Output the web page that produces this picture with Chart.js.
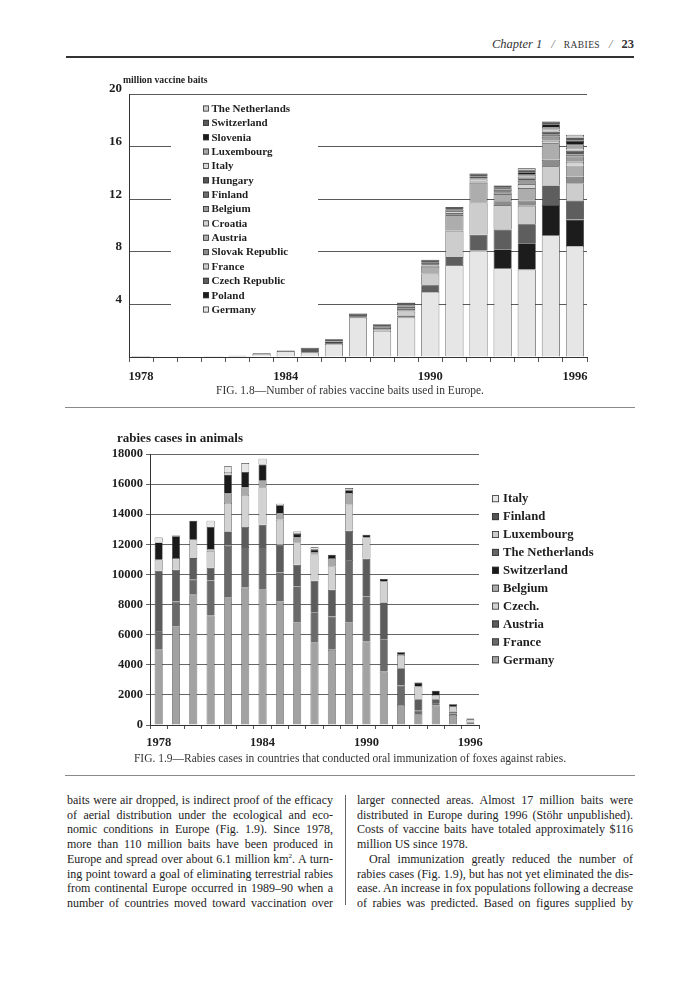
<!DOCTYPE html>
<html><head><meta charset="utf-8">
<script src="https://cdn.jsdelivr.net/npm/chart.js@4.4.0/dist/chart.umd.min.js"></script>
<style>
html,body{margin:0;padding:0;background:#fff;}
body{width:700px;height:1000px;position:relative;overflow:hidden;font-family:"Liberation Serif","Times New Roman",serif;color:#222;}
.abs{position:absolute;}
#hdr{right:66px;top:37px;font-size:12.5px;white-space:nowrap;color:#333;}
#hdr .sl{margin:0 9px;color:#777;font-style:italic;}
#hdr .sc{font-size:9.5px;letter-spacing:0.4px;}
.rule{position:absolute;left:65px;width:570px;height:1px;background:#8a8a8a;}
.cap{position:absolute;left:0;width:700px;text-align:center;font-size:11.5px;color:#333;white-space:nowrap;}
.col{position:absolute;top:793px;font-size:12px;line-height:14.7px;color:#222;}
.col div{text-align:justify;text-align-last:justify;white-space:nowrap;}
.col div.last{text-align-last:left;}
.col div.ind{padding-left:12px;}
canvas{position:absolute;left:0;}
</style>
</head><body>
<div id="hdr" class="abs"><i>Chapter 1</i><span class="sl">/</span><span class="sc">RABIES</span><span class="sl">/</span><b>23</b></div>
<div class="rule" style="top:56px;height:2px;background:#333;left:66px;width:568px;"></div>

<canvas id="c1" width="700" height="330" style="top:60px;"></canvas>
<div class="cap" style="top:384px;">FIG. 1.8—Number of rabies vaccine baits used in Europe.</div>
<div class="rule" style="top:407px;"></div>

<canvas id="c2" width="700" height="340" style="top:420px;"></canvas>
<div class="cap" style="top:752px;">FIG. 1.9—Rabies cases in countries that conducted oral immunization of foxes against rabies.</div>
<div class="rule" style="top:775px;"></div>

<div class="col" style="left:67px;width:266px;">
<div>baits were air dropped, is indirect proof of the efficacy</div>
<div>of aerial distribution under the ecological and eco-</div>
<div>nomic conditions in Europe (Fig. 1.9). Since 1978,</div>
<div>more than 110 million baits have been produced in</div>
<div>Europe and spread over about 6.1 million km<sup style="font-size:7px;line-height:0">2</sup>. A turn-</div>
<div>ing point toward a goal of eliminating terrestrial rabies</div>
<div>from continental Europe occurred in 1989–90 when a</div>
<div>number of countries moved toward vaccination over</div>
</div>
<div class="abs" style="left:345px;top:795px;width:1px;height:110px;background:#666;"></div>
<div class="col" style="left:357px;width:276px;">
<div>larger connected areas. Almost 17 million baits were</div>
<div>distributed in Europe during 1996 (Stöhr unpublished).</div>
<div>Costs of vaccine baits have totaled approximately $116</div>
<div class="last">million US since 1978.</div>
<div class="ind">Oral immunization greatly reduced the number of</div>
<div>rabies cases (Fig. 1.9), but has not yet eliminated the dis-</div>
<div>ease. An increase in fox populations following a decrease</div>
<div>of rabies was predicted. Based on figures supplied by</div>
</div>

<script>
// ---------- shared ----------
const years = ['1978','1979','1980','1981','1982','1983','1984','1985','1986','1987','1988','1989','1990','1991','1992','1993','1994','1995','1996'];
const yearTickLabels = ['1978','1984','1990','1996'];

// ---------- Fig 1.8: million vaccine baits (stack order bottom -> top) ----------
const baitGermany       = [0.005,0.01,0.01,0.01,0.05,0.25,0.45,0.33,1.0,3.0,2.0,3.0,4.95,7.0,8.1,6.75,6.65,9.25,8.45];
const baitPoland        = [0,0,0,0,0,0,0,0,0,0,0,0,0,0,0,1.45,2.0,2.3,2.0];
const baitCzechRepublic = [0,0,0,0,0,0,0,0,0,0,0,0.15,0.5,0.6,1.2,1.5,1.45,1.5,1.45];
const baitFrance        = [0,0,0,0,0,0,0,0,0,0,0,0.3,0.9,2.0,2.45,1.85,1.4,1.45,1.3];
const baitSlovak        = [0,0,0,0,0,0,0,0,0,0,0,0,0,0,0,0.3,0.4,0.5,0.5];
const baitAustria       = [0,0,0,0,0,0,0,0,0,0,0.2,0.2,0.5,1.2,1.5,0.55,0.95,1.25,0.85];
const baitCroatia       = [0,0,0,0,0,0,0,0,0,0,0,0,0,0,0,0,0.3,0.2,0.3];
const baitBelgium       = [0,0,0,0,0,0,0,0,0,0,0,0.15,0.1,0.15,0.1,0.1,0.25,0.3,0.4];
const baitFinland       = [0,0,0,0,0,0,0,0,0,0,0,0,0,0,0,0,0,0.15,0.15];
const baitHungary       = [0,0,0,0,0,0,0,0,0,0,0,0,0,0,0,0.1,0.2,0.25,0.3];
const baitItaly         = [0,0,0,0,0,0,0,0,0,0,0,0,0.1,0.15,0.15,0.1,0.1,0.15,0.2];
const baitLuxembourg    = [0,0,0,0,0,0,0,0,0,0,0.1,0.05,0.1,0.1,0.1,0.1,0.2,0.2,0.25];
const baitSlovenia      = [0,0,0,0,0,0,0,0,0.18,0.1,0.05,0.05,0.05,0.05,0.1,0.1,0.15,0.2,0.3];
const baitSwitzerland   = [0.005,0.01,0.01,0.02,0.05,0.05,0.05,0.37,0.17,0.2,0.15,0.2,0.2,0.15,0.25,0.15,0.15,0.2,0.25];
const baitNetherlands   = [0,0,0,0,0,0,0,0,0,0,0,0.05,0,0,0,0,0.15,0,0.2];
const baitTicks = [0,4,8,12,16,20];

// ---------- Fig 1.9: rabies cases in animals (stack order bottom -> top) ----------
const caseGermany     = [5000,6550,8650,7270,8490,9130,9020,8200,6810,5480,4990,6810,5540,3550,1330,730,1290,665,110];
const caseFrance      = [1250,1650,1000,2330,3410,2690,2800,1930,2390,2010,2210,4150,3000,2150,1290,220,150,100,60];
const caseAustria     = [4000,2110,1440,840,960,1330,1480,1840,1440,2090,1780,1940,2500,2440,1150,760,270,125,50];
const caseCzech       = [730,780,1220,1130,1890,2130,2490,1670,1490,1730,1550,1730,1420,1390,890,840,290,330,160];
const caseBelgium     = [0,0,0,120,620,510,460,440,330,180,560,780,0,0,0,0,0,0,0];
const caseSwitzerland = [1150,1440,1260,1460,1260,1020,1050,510,220,150,220,180,180,160,170,270,280,150,60];
const caseNetherlands = [0,0,0,0,0,0,0,0,60,50,0,0,0,0,0,0,0,0,0];
const caseLuxembourg  = [0,0,0,0,180,0,0,0,0,0,0,0,0,0,0,0,0,0,0];
const caseFinland     = [0,0,0,0,0,0,0,0,0,0,0,60,0,0,0,0,0,0,0];
const caseItaly       = [330,50,0,420,370,590,390,110,120,110,0,90,0,0,0,0,0,0,0];
const caseTicks = [0,2000,4000,6000,8000,10000,12000,14000,16000,18000];

const SERIF = '"Liberation Serif","Times New Roman",serif';

const baitSeries = [
  ['Germany', baitGermany, '#e6e6e6'],
  ['Poland', baitPoland, '#1c1c1c'],
  ['Czech Republic', baitCzechRepublic, '#5e5e5e'],
  ['France', baitFrance, '#cdcdcd'],
  ['Slovak Republic', baitSlovak, '#8c8c8c'],
  ['Austria', baitAustria, '#adadad'],
  ['Croatia', baitCroatia, '#d4d4d4'],
  ['Belgium', baitBelgium, '#9c9c9c'],
  ['Finland', baitFinland, '#6e6e6e'],
  ['Hungary', baitHungary, '#575757'],
  ['Italy', baitItaly, '#d8d8d8'],
  ['Luxembourg', baitLuxembourg, '#a6a6a6'],
  ['Slovenia', baitSlovenia, '#1a1a1a'],
  ['Switzerland', baitSwitzerland, '#5a5a5a'],
  ['The Netherlands', baitNetherlands, '#cfcfcf']
];
const caseSeries = [
  ['Germany', caseGermany, '#a2a2a2'],
  ['France', caseFrance, '#6a6a6a'],
  ['Austria', caseAustria, '#5c5c5c'],
  ['Czech.', caseCzech, '#d2d2d2'],
  ['Belgium', caseBelgium, '#a9a9a9'],
  ['Switzerland', caseSwitzerland, '#1a1a1a'],
  ['The Netherlands', caseNetherlands, '#666666'],
  ['Luxembourg', caseLuxembourg, '#cccccc'],
  ['Finland', caseFinland, '#555555'],
  ['Italy', caseItaly, '#e6e6e6']
];

function decorPlugin(cfg){
  return {
    id: 'decor',
    afterDatasetsDraw(chart){
      const ctx = chart.ctx, a = chart.chartArea;
      ctx.save();
      // axis title
      ctx.fillStyle = '#1e1e1e';
      ctx.font = 'bold ' + cfg.titleSize + 'px ' + SERIF;
      ctx.textBaseline = 'middle';
      ctx.textAlign = 'left';
      ctx.fillText(cfg.title, a.left + cfg.titleDx, a.top + cfg.titleDy);
      // legend
      const L = cfg.legend;
      const x0 = (L.fromRight ? a.right : a.left);
      if (L.box) {
        ctx.fillStyle = '#ffffff';
        ctx.fillRect(x0 + L.box[0], a.top + L.box[1], L.box[2], L.box[3]);
      }
      const ds = chart.data.datasets.slice().reverse();
      ctx.font = 'bold ' + L.size + 'px ' + SERIF;
      ds.forEach((d, i) => {
        const y = a.top + L.y0 + i * L.step;
        ctx.fillStyle = d.backgroundColor;
        ctx.fillRect(x0 + L.sx, y - L.sq/2, L.sq, L.sq);
        ctx.strokeStyle = '#333';
        ctx.lineWidth = 0.8;
        ctx.strokeRect(x0 + L.sx + 0.4, y - L.sq/2 + 0.4, L.sq - 0.8, L.sq - 0.8);
        ctx.fillStyle = '#1e1e1e';
        ctx.fillText(d.label, x0 + L.tx, y + 0.5);
      });
      ctx.restore();
    }
  };
}

function makeDatasets(series, bp, bw){
  return series.map(s => ({
    label: s[0], data: s[1], backgroundColor: s[2],
    borderColor: '#2a2a2a', borderWidth: bw,
    barPercentage: bp, categoryPercentage: 1.0
  }));
}

// ---------- Chart 1 ----------
new Chart(document.getElementById('c1'), {
  type: 'bar',
  data: { labels: years, datasets: makeDatasets(baitSeries, 0.75, 0.7) },
  options: {
    responsive: false, animation: false, devicePixelRatio: 1,
    layout: { padding: { left: 0, right: 113, top: 34, bottom: 0 } },
    plugins: { legend: { display: false }, tooltip: { enabled: false }, title: { display: false } },
    scales: {
      x: {
        stacked: true,
        grid: { display: true, drawOnChartArea: false, drawTicks: true, tickLength: 5, color: '#555', offset: true },
        border: { color: '#333', width: 1 },
        ticks: { autoSkip: false, maxRotation: 0, padding: 7, color: '#1e1e1e',
          font: { family: SERIF, size: 12.5, weight: 'bold' },
          callback: (v, i) => yearTickLabels.includes(years[i]) ? years[i] : '' },
        afterFit: s => { s.height = 33; }
      },
      y: {
        stacked: true, min: 0, max: 20,
        afterBuildTicks: s => { s.ticks = baitTicks.map(v => ({ value: v })); },
        grid: { color: '#5a5a5a', lineWidth: 1, drawTicks: false },
        border: { color: '#333', width: 1 },
        ticks: { padding: 7, labelOffset: -5, color: '#1e1e1e',
          font: { family: SERIF, size: 13, weight: 'bold' },
          callback: v => v === 0 ? '' : String(v) },
        afterFit: s => { s.width = 129; }
      }
    }
  },
  plugins: [decorPlugin({
    title: 'million vaccine baits', titleSize: 9.7, titleDx: -6, titleDy: -14,
    legend: { fromRight: false, box: [42, 6, 147, 218], y0: 14.5, step: 14.36, sq: 6, sx: 74, tx: 82.5, size: 11 }
  })]
});

// ---------- Chart 2 ----------
new Chart(document.getElementById('c2'), {
  type: 'bar',
  data: { labels: years, datasets: makeDatasets(caseSeries, 0.46, 0.6) },
  options: {
    responsive: false, animation: false, devicePixelRatio: 1,
    layout: { padding: { left: 0, right: 221, top: 34, bottom: 0 } },
    plugins: { legend: { display: false }, tooltip: { enabled: false }, title: { display: false } },
    scales: {
      x: {
        stacked: true,
        grid: { display: true, drawOnChartArea: false, drawTicks: true, tickLength: 4, color: '#555', offset: true },
        border: { color: '#333', width: 1 },
        ticks: { autoSkip: false, maxRotation: 0, padding: 6, color: '#1e1e1e',
          font: { family: SERIF, size: 12.5, weight: 'bold' },
          callback: (v, i) => yearTickLabels.includes(years[i]) ? years[i] : '' },
        afterFit: s => { s.height = 35; }
      },
      y: {
        stacked: true, min: 0, max: 18000,
        afterBuildTicks: s => { s.ticks = caseTicks.map(v => ({ value: v })); },
        grid: { color: '#666', lineWidth: 1, drawTicks: true, tickLength: 4 },
        border: { color: '#333', width: 1 },
        ticks: { padding: 3, color: '#1e1e1e',
          font: { family: SERIF, size: 12.5, weight: 'bold' },
          callback: v => String(v) },
        afterFit: s => { s.width = 150; }
      }
    }
  },
  plugins: [decorPlugin({
    title: 'rabies cases in animals', titleSize: 13, titleDx: -33, titleDy: -15,
    legend: { fromRight: true, box: null, y0: 44.7, step: 17.9, sq: 7, sx: 13, tx: 24, size: 12.7 }
  })]
});
</script>
</body></html>
